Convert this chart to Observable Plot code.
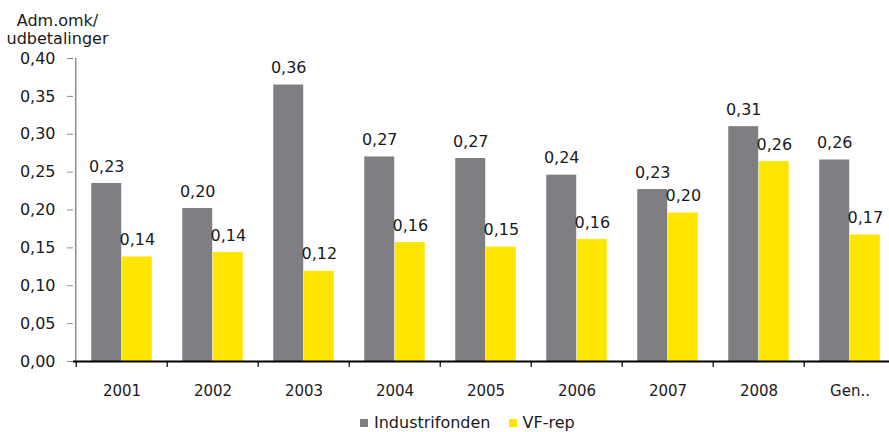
<!DOCTYPE html>
<html><head><meta charset="utf-8">
<script src="https://cdn.jsdelivr.net/npm/d3@7"></script>
<script src="https://cdn.jsdelivr.net/npm/@observablehq/plot@0.6"></script>
<style>
body{margin:0;background:#fff;font-family:"DejaVu Sans",sans-serif;color:#1a1a1a;}
#wrap{position:relative;width:889px;height:432px;overflow:hidden;}
#title{position:absolute;left:0;top:11.5px;width:115px;text-align:center;font-size:16px;line-height:18px;}
#chart{position:absolute;left:0;top:0;}
#legend{position:absolute;left:360px;top:414px;font-size:16px;line-height:18px;display:flex;align-items:center;white-space:nowrap;}
.sw{display:inline-block;width:8px;height:8px;margin-right:6px;}
</style></head><body>
<div id="wrap">
  <div id="chart"></div>
  <div id="title">Adm.omk/<br>udbetalinger</div>
  <div id="legend"></div>
</div>
<script>
const categories = ["2001", "2002", "2003", "2004", "2005", "2006", "2007", "2008", "Gen.."];
const industrifonden = [0.235, 0.202, 0.365, 0.270, 0.268, 0.246, 0.227, 0.310, 0.266];
const vfRep = [0.138, 0.144, 0.119, 0.157, 0.151, 0.161, 0.196, 0.264, 0.167];
const industrifondenLabels = ["0,23", "0,20", "0,36", "0,27", "0,27", "0,24", "0,23", "0,31", "0,26"];
const vfRepLabels = ["0,14", "0,14", "0,12", "0,16", "0,15", "0,16", "0,20", "0,26", "0,17"];
const yTicks = [0, 0.05, 0.10, 0.15, 0.20, 0.25, 0.30, 0.35, 0.40];
const seriesNames = ["Industrifonden", "VF-rep"];
const seriesColors = ["#7f7e83", "#ffe600"];

const width = 889, height = 408;
const marginLeft = 73, marginRight = -8, marginTop = 58, marginBottom = 47;
const step = (width - marginLeft - marginRight) / categories.length;
const pxPerUnit = (height - marginTop - marginBottom) / 0.4;

const rows = categories.map((c, i) => ({
  cat: c, ind: industrifonden[i], vf: vfRep[i],
  indL: industrifondenLabels[i], vfL: vfRepLabels[i]
}));
const fmt = d => d.toFixed(2).replace(".", ",");

const plot = Plot.plot({
  width, height, marginLeft, marginRight, marginTop, marginBottom,
  style: {fontFamily: "DejaVu Sans", fontSize: "16px", color: "#1a1a1a", background: "transparent"},
  x: {domain: categories, padding: 0},
  y: {domain: [0, 0.4]},
  marks: [
    Plot.barY(rows, {x: "cat", y: "ind", fill: seriesColors[0], insetLeft: step / 6, insetRight: step / 2}),
    Plot.barY(rows, {x: "cat", y: "vf", fill: seriesColors[1], insetLeft: step / 2, insetRight: step / 6}),
    Plot.text(rows, {x: "cat", y: "ind", text: "indL", dx: -step / 6, dy: -17, fill: "#1a1a1a"}),
    Plot.text(rows, {x: "cat", y: "vf", text: "vfL", dx: step / 6, dy: -17, fill: "#1a1a1a"}),
    Plot.ruleX(categories.slice(0, 1), {x: d => d, dx: -step / 2 - 0.5, y1: 0, y2: 0.4, stroke: "#8c8c8c", strokeWidth: 1.5}),
    Plot.axisY({ticks: yTicks, anchor: "left", tickSize: 6, tickPadding: 12, tickFormat: fmt, stroke: "#8c8c8c", fill: "#1a1a1a", label: null}),
    Plot.ruleX(categories, {x: d => d, dx: -step / 2, y1: 0, y2: -6 / pxPerUnit, stroke: "#000", strokeWidth: 1.2}),
    Plot.ruleY([0], {stroke: "#000", strokeWidth: 2}),
    Plot.axisX({anchor: "bottom", tickSize: 0, tickPadding: 23.5, fill: "#1a1a1a", fontSize: 15, label: null})
  ]
});
document.getElementById("chart").appendChild(plot);

const legend = document.getElementById("legend");
seriesNames.forEach((name, i) => {
  const item = document.createElement("span");
  item.style.display = "inline-flex";
  item.style.alignItems = "center";
  item.style.marginRight = i === 0 ? "18px" : "0";
  const sw = document.createElement("span");
  sw.className = "sw";
  sw.style.background = seriesColors[i];
  item.appendChild(sw);
  item.appendChild(document.createTextNode(name));
  legend.appendChild(item);
});
</script>
</body></html>
